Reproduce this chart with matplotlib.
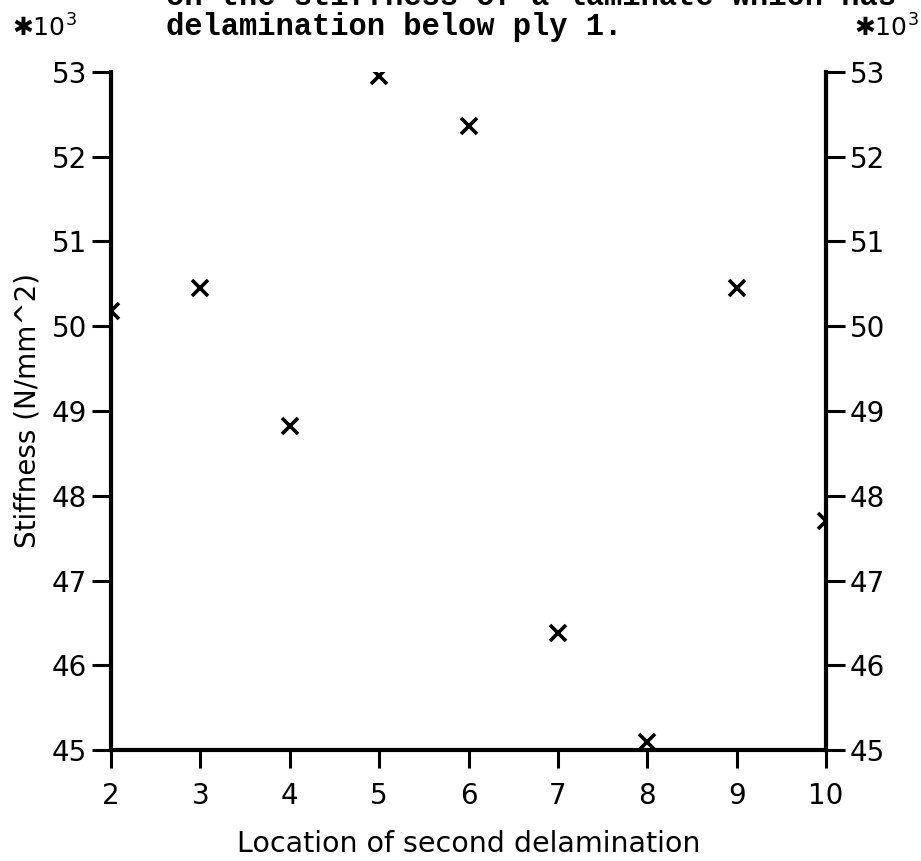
import matplotlib
matplotlib.use("Agg")
import matplotlib.pyplot as plt
import numpy as np

# second delamination position (ply) and laminate stiffness (*10^3 N/mm^2)
location = [2, 3, 4, 5, 6, 7, 8, 9, 10]
stiffness = [50.18, 50.45, 48.82, 52.95, 52.36, 46.38, 45.09, 50.45, 47.70]

x_ticks = [2, 3, 4, 5, 6, 7, 8, 9, 10]
y_ticks = [45, 46, 47, 48, 49, 50, 51, 52, 53]

title_lines = ["on the stiffness of a laminate which has",
               "delamination below ply 1."]

plt.rcParams['font.family'] = ['DejaVu Sans']

fig = plt.figure(figsize=(9.21, 8.61), dpi=100)
ax = fig.add_axes([0.1205, 0.1289, 0.7764, 0.7875])

ax.plot(location, stiffness, linestyle='none', marker='x', color='black',
        markersize=12, markeredgewidth=2.6)

ax.set_xlim(2, 10)
ax.set_ylim(45, 53)
ax.set_xticks(x_ticks)
ax.set_yticks(y_ticks)

ax.spines['top'].set_visible(False)
for side in ['left', 'right', 'bottom']:
    ax.spines[side].set_linewidth(3.0)

ax.tick_params(axis='y', which='both', left=True, right=True,
               labelleft=True, labelright=True, direction='out',
               length=14, width=2.2, pad=3, labelsize=20)
ax.tick_params(axis='x', direction='out', length=13, width=2.2, pad=10,
               labelsize=20)

ax.set_xlabel("Location of second delamination", fontsize=20.5)
ax.xaxis.set_label_coords(0.5, -0.118)
ax.set_ylabel("Stiffness (N/mm^2)", fontsize=20)
ax.yaxis.set_label_coords(-0.097, 0.5)

# exponent markers in the two upper corners
fig.text(12 / 921, 1 - 37 / 861, "\u273110$^3$", fontsize=18,
         ha='left', va='baseline')
fig.text(919 / 921, 1 - 37 / 861, "\u273110$^3$", fontsize=18,
         ha='right', va='baseline')

# title, first line cut off by the top edge of the page
fig.text(166 / 921, 1 - 5 / 861, title_lines[0], family='Liberation Mono',
         fontweight='bold', fontsize=22, ha='left', va='baseline')
fig.text(166 / 921, 1 - 35 / 861, title_lines[1], family='Liberation Mono',
         fontweight='bold', fontsize=22, ha='left', va='baseline')

fig.savefig("out.png", dpi=100)
